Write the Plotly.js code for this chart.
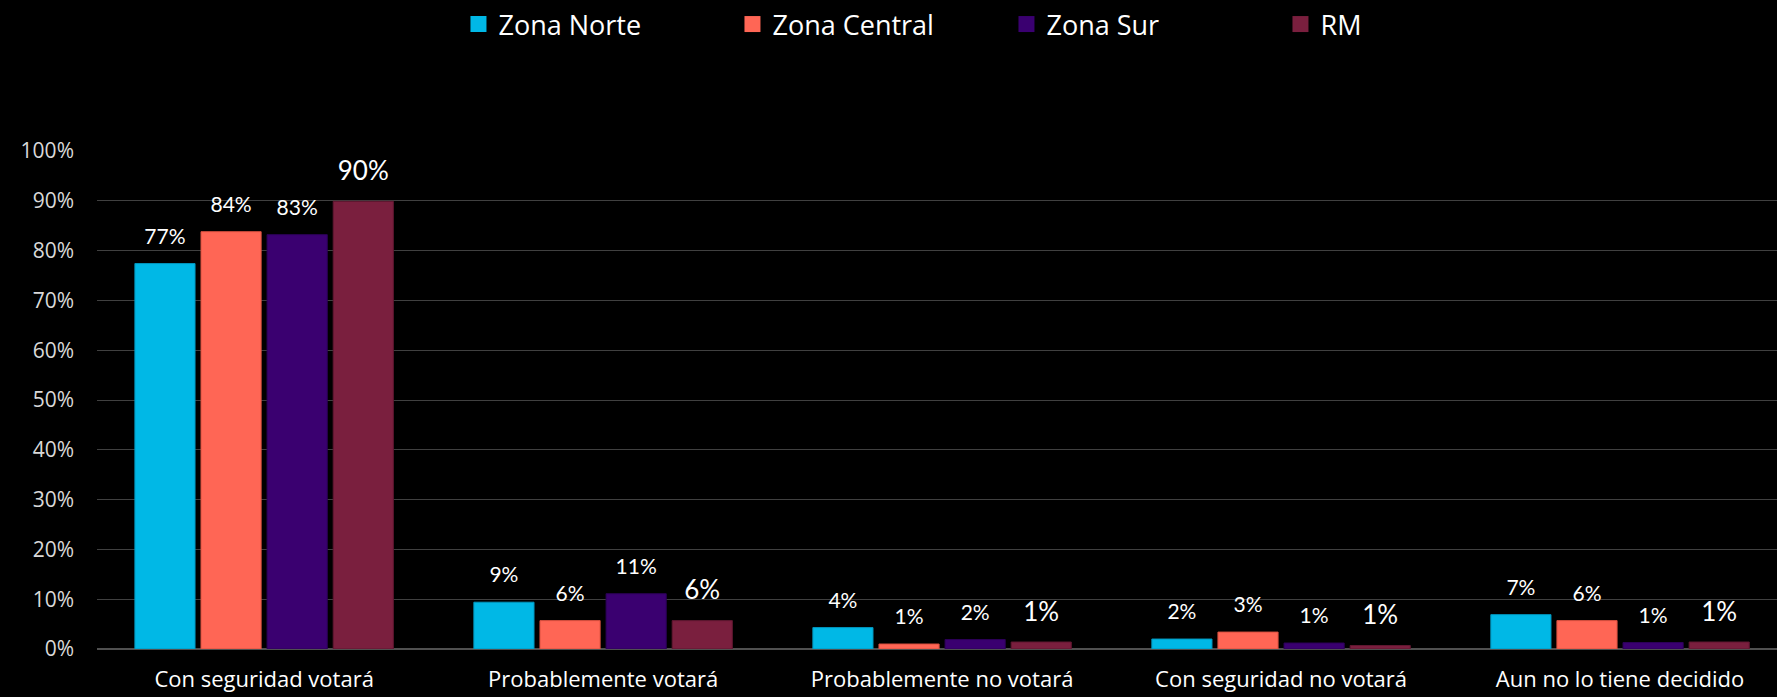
<!DOCTYPE html>
<html>
<head>
<meta charset="utf-8">
<script src="https://cdn.plot.ly/plotly-3.0.1.min.js"></script>
<style>html,body{margin:0;padding:0;background:#000;}#chart{width:1777px;height:697px;}</style>
</head>
<body>
<div id="chart"></div>
<script>
var categories = ["Con seguridad votará", "Probablemente votará", "Probablemente no votará", "Con seguridad no votará", "Aun no lo tiene decidido"];
var seriesNames = ["Zona Norte", "Zona Central", "Zona Sur", "RM"];
var zonaNorte   = [77.4, 9.4, 4.3, 2.0, 6.9];
var zonaCentral = [83.8, 5.7, 1.0, 3.4, 5.7];
var zonaSur     = [83.2, 11.1, 1.9, 1.2, 1.3];
var rm          = [89.9, 5.7, 1.4, 0.7, 1.4];
var yTickVals   = [0, 10, 20, 30, 40, 50, 60, 70, 80, 90, 100];
var yTickText   = ["0%", "10%", "20%", "30%", "40%", "50%", "60%", "70%", "80%", "90%", "100%"];

var colors = ["#00B8E6", "#FF6655", "#3A0070", "#7A1F3E"];
var lineColors = ["#0096BE", "#D9503F", "#2C0058", "#5F1730"];
var labelSizes = [21, 21, 21, 26];
var allSeries = [zonaNorte, zonaCentral, zonaSur, rm];
var FONT = "Lato, 'Open Sans', sans-serif";
var FONT2 = "'Open Sans', Lato, sans-serif";

var traces = [];
allSeries.forEach(function (vals, i) {
  traces.push({
    type: "bar",
    name: seriesNames[i],
    x: categories,
    y: vals,
    offsetgroup: String(i),
    showlegend: false,
    marker: { color: colors[i], line: { color: lineColors[i], width: 1 } },
    hoverinfo: "skip"
  });
});
allSeries.forEach(function (vals, i) {
  traces.push({
    type: "scatter",
    mode: "markers+text",
    name: seriesNames[i],
    x: categories,
    y: vals,
    offsetgroup: String(i),
    showlegend: false,
    hoverinfo: "skip",
    marker: { size: 22, opacity: 0, color: colors[i] },
    texttemplate: "%{y:.0f}%",
    textposition: "top center",
    textfont: { family: FONT, size: labelSizes[i], color: "#FFFFFF" },
    cliponaxis: false
  });
});
// legend entries (square swatches)
allSeries.forEach(function (vals, i) {
  traces.push({
    type: "scatter",
    mode: "markers",
    name: seriesNames[i],
    x: [categories[0]],
    y: [null],
    offsetgroup: String(i),
    showlegend: true,
    hoverinfo: "skip",
    marker: { symbol: "square", size: 18, color: colors[i] }
  });
});

var layout = {
  width: 1777,
  height: 697,
  paper_bgcolor: "#000000",
  plot_bgcolor: "#000000",
  margin: { l: 97, r: 0, t: 151, b: 48 },
  barmode: "group",
  bargap: 0.22,
  bargroupgap: 0.09,
  scattermode: "group",
  scattergap: 0.22,
  font: { family: FONT, color: "#FFFFFF" },
  showlegend: true,
  legend: {
    orientation: "h",
    xref: "container",
    yref: "container",
    x: 0.258,
    xanchor: "left",
    y: 1.0,
    yanchor: "top",
    entrywidth: 229,
    itemsizing: "trace",
    traceorder: "normal",
    font: { family: FONT2, size: 27, color: "#FFFFFF" },
    bgcolor: "rgba(0,0,0,0)"
  },
  xaxis: {
    type: "category",
    range: [-0.493, 4.463],
    showgrid: false,
    showline: false,
    ticks: "",
    tickfont: { family: FONT2, size: 22, color: "#FFFFFF" },
    ticklabelstandoff: 15,
    fixedrange: true
  },
  yaxis: {
    range: [0, 100],
    tickvals: yTickVals,
    ticktext: yTickText,
    showgrid: true,
    gridcolor: "#404040",
    gridwidth: 1,
    zeroline: true,
    zerolinecolor: "#505050",
    zerolinewidth: 1.5,
    showline: false,
    ticks: "",
    tickfont: { family: FONT2, size: 21, color: "#D9D9D9" },
    ticklabelstandoff: 22,
    fixedrange: true
  }
};

Plotly.newPlot("chart", traces, layout, { displayModeBar: false, staticPlot: true });
</script>
</body>
</html>
